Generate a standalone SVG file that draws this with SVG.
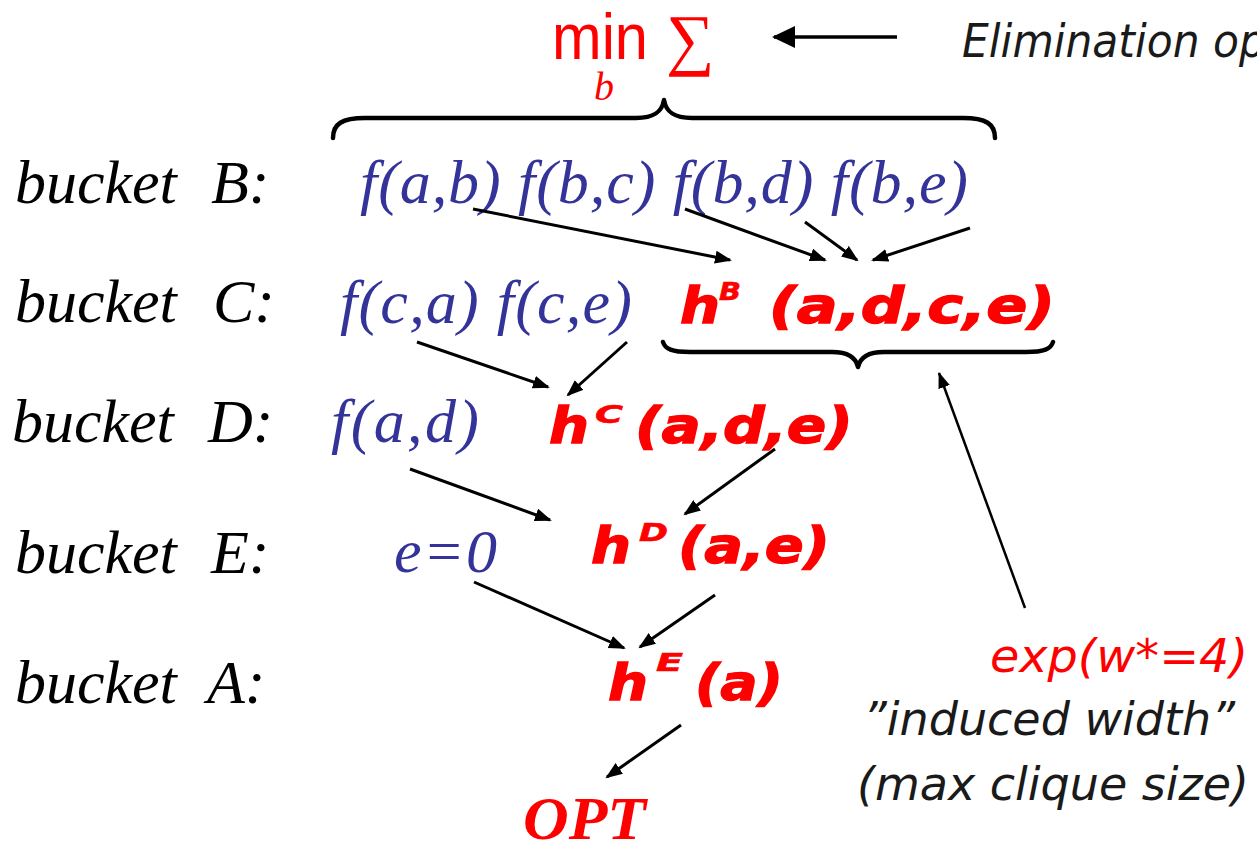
<svg xmlns="http://www.w3.org/2000/svg" width="1257" height="846" viewBox="0 0 1257 846">
<style>
.lbl{font-family:"Liberation Serif","Times New Roman",serif;font-style:italic;font-size:62px;fill:#000}
.blue{font-family:"Liberation Serif","Times New Roman",serif;font-style:italic;font-size:62px;fill:#333399}
.red{font-family:"DejaVu Sans",Verdana,sans-serif;font-weight:bold;font-style:italic;font-size:49px;fill:#ff0000;stroke:#ff0000;stroke-width:1.3}
.sup{font-family:"DejaVu Sans",Verdana,sans-serif;font-weight:bold;font-style:italic;font-size:25px;fill:#ff0000;stroke:#ff0000;stroke-width:0.6}
.note{font-family:"DejaVu Sans",Verdana,sans-serif;font-style:italic;font-size:46px;fill:#1a1a1a}
.rednote{fill:#ff0000}
.arr{stroke:#000;stroke-width:3;fill:none;marker-end:url(#ah)}
.arrthin{stroke:#000;stroke-width:2.5;fill:none;marker-end:url(#ah2)}
.brace{stroke:#000;stroke-width:4.5;fill:none;stroke-linecap:round;stroke-linejoin:round}
</style>
<defs>
<marker id="ah" markerUnits="userSpaceOnUse" markerWidth="18" markerHeight="14" refX="15" refY="6.5" orient="auto"><path d="M0,0 L17,6.5 L0,13 Z" fill="#000"/></marker>
<marker id="ah2" markerUnits="userSpaceOnUse" markerWidth="18" markerHeight="14" refX="15" refY="6" orient="auto"><path d="M0,0 L16,6 L0,12 Z" fill="#000"/></marker>
<marker id="ah3" markerUnits="userSpaceOnUse" markerWidth="26" markerHeight="26" refX="21" refY="11" orient="auto"><path d="M0,0 L23,11 L0,22 Z" fill="#000"/></marker>
</defs>

<g id="labels">
<g id="label-B"><text class="lbl" x="15" y="203">bucket</text><text class="lbl" x="211" y="203">B:</text></g>
<g id="label-C"><text class="lbl" x="15" y="322">bucket</text><text class="lbl" x="213" y="322">C:</text></g>
<g id="label-D"><text class="lbl" x="12" y="442">bucket</text><text class="lbl" x="208" y="442">D:</text></g>
<g id="label-E"><text class="lbl" x="15" y="573">bucket</text><text class="lbl" x="211" y="573">E:</text></g>
<g id="label-A"><text class="lbl" x="15" y="703">bucket</text><text class="lbl" x="207" y="703">A:</text></g>
</g>

<g id="elim-op">
<text x="552" y="59" font-family="'Liberation Sans',Arial,sans-serif" font-size="64" fill="#ff0000" textLength="96" lengthAdjust="spacingAndGlyphs">min</text>
<text x="666" y="62" font-family="'Liberation Serif','Times New Roman',serif" font-size="68" fill="#ff0000">∑</text>
<text x="594" y="100" font-family="'Liberation Serif','Times New Roman',serif" font-style="italic" font-size="40" fill="#ff0000">b</text>
</g>
<g id="elim-label">
<text class="note" x="962" y="57" font-size="44" textLength="304" lengthAdjust="spacingAndGlyphs">Elimination op</text>
</g>

<g id="bucket-B-funcs"><text class="blue" x="360" y="203" textLength="608" lengthAdjust="spacing">f(a,b) f(b,c) f(b,d) f(b,e)</text></g>
<g id="bucket-C-funcs"><text class="blue" x="340" y="323" textLength="292" lengthAdjust="spacing">f(c,a) f(c,e)</text></g>
<g id="bucket-D-funcs"><text class="blue" x="331" y="442" textLength="148" lengthAdjust="spacing">f(a,d)</text></g>
<g id="bucket-E-funcs"><text class="blue" x="394" y="572" textLength="103" lengthAdjust="spacing">e=0</text></g>

<g id="hB"><text class="red" x="680" y="323" textLength="40" lengthAdjust="spacingAndGlyphs">h</text><text class="sup" x="719" y="300" font-size="23" textLength="22" lengthAdjust="spacingAndGlyphs">B</text><text class="red" x="769" y="323" textLength="286" lengthAdjust="spacingAndGlyphs">(a,d,c,e)</text></g>
<g id="hC"><text class="red" x="549" y="443" textLength="40" lengthAdjust="spacingAndGlyphs">h</text><text class="sup" x="595" y="423" textLength="28" lengthAdjust="spacingAndGlyphs">C</text><text class="red" x="635" y="443" textLength="218" lengthAdjust="spacingAndGlyphs">(a,d,e)</text></g>
<g id="hD"><text class="red" x="591" y="563" textLength="40" lengthAdjust="spacingAndGlyphs">h</text><text class="sup" x="639" y="541" textLength="29" lengthAdjust="spacingAndGlyphs">D</text><text class="red" x="678" y="563" textLength="152" lengthAdjust="spacingAndGlyphs">(a,e)</text></g>
<g id="hE"><text class="red" x="608" y="700" textLength="40" lengthAdjust="spacingAndGlyphs">h</text><text class="sup" x="656" y="671" textLength="27" lengthAdjust="spacingAndGlyphs">E</text><text class="red" x="695" y="700" textLength="88" lengthAdjust="spacingAndGlyphs">(a)</text></g>
<g id="opt"><text x="523" y="839" font-family="'Liberation Serif','Times New Roman',serif" font-style="italic" font-weight="bold" font-size="62" fill="#ff0000" textLength="123" lengthAdjust="spacingAndGlyphs">OPT</text></g>

<g id="width-note">
<text class="note rednote" x="990" y="672" textLength="258" lengthAdjust="spacingAndGlyphs">exp(w*=4)</text>
<text class="note" x="863" y="735" textLength="372" lengthAdjust="spacingAndGlyphs">”induced width”</text>
<text class="note" x="857" y="800" textLength="392" lengthAdjust="spacingAndGlyphs">(max clique size)</text>
</g>

<g id="braces">
<path class="brace" d="M333,138 C333,124 342,118 365,118 L636,118 C654,118 662,112 664,100 C666,112 674,118 692,118 L963,118 C986,118 995,124 995,138"/>
<path class="brace" d="M663,342 C665,349 672,352 690,352 L832,352 C848,352 856,358 858,367 C860,358 868,352 884,352 L1026,352 C1044,352 1051,349 1053,342"/>
</g>

<g id="connectors">
<line class="arr" x1="473" y1="209" x2="730" y2="260"/>
<line class="arr" x1="685" y1="209" x2="825" y2="260"/>
<line class="arr" x1="805" y1="222" x2="857" y2="260"/>
<line class="arr" x1="970" y1="228" x2="873" y2="260"/>
<line class="arr" x1="417" y1="342" x2="548" y2="387"/>
<line class="arr" x1="627" y1="342" x2="568" y2="395"/>
<line class="arr" x1="410" y1="469" x2="550" y2="520"/>
<line class="arr" x1="775" y1="449" x2="685" y2="514"/>
<line class="arr" x1="474" y1="582" x2="624" y2="648"/>
<line class="arr" x1="715" y1="595" x2="640" y2="647"/>
<line class="arr" x1="681" y1="725" x2="607" y2="777"/>
<line class="arrthin" x1="1025" y1="608" x2="939" y2="373"/>
<line x1="897" y1="37" x2="774" y2="37" stroke="#000" stroke-width="3.5" marker-end="url(#ah3)"/>
</g>
</svg>
